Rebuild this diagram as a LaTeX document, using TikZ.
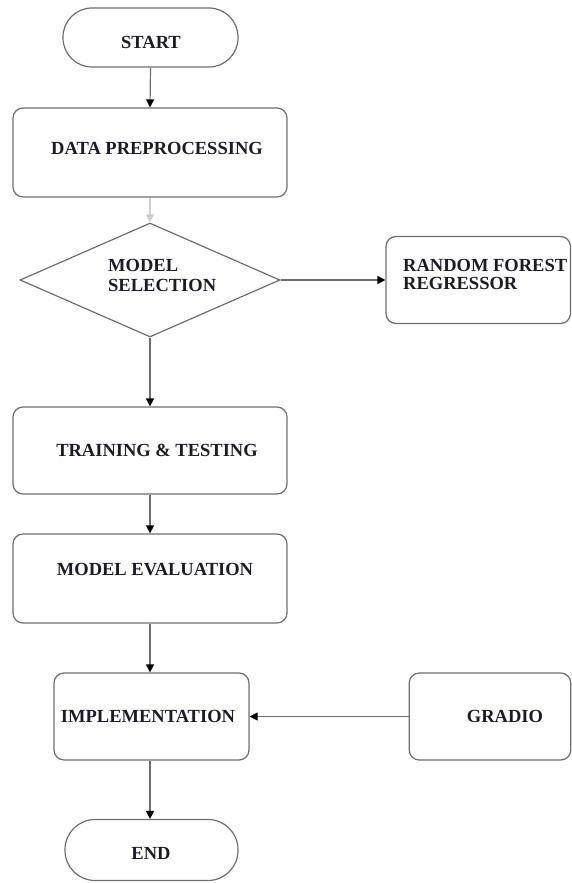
\documentclass[tikz,border=0pt]{standalone}
\usepackage{fontspec}
\setmainfont{Liberation Serif}
\usetikzlibrary{arrows.meta,shapes.geometric}
\definecolor{linegray}{HTML}{6E6E6E}
\definecolor{lightline}{HTML}{CDCDCD}
\definecolor{textcol}{HTML}{1C1C28}
\begin{document}
\begin{tikzpicture}[x=1pt,y=-1pt,
  box/.style={draw=linegray, line width=1.2pt, rounded corners=10pt, inner sep=0pt},
  term/.style={draw=linegray, line width=1.2pt, rounded corners=29pt, inner sep=0pt},
  lbl/.style={font=\fontsize{18.5}{19}\selectfont\bfseries, inner sep=0pt, text=textcol},
  arr/.style={draw=linegray, line width=1.2pt, -{Triangle[length=8pt,width=8pt,color=black]}},
  arrlight/.style={draw=lightline, line width=1.2pt, -{Triangle[length=8pt,width=8pt,color=lightline]}},
]
\useasboundingbox (0,0) rectangle (572,883);
% nodes
\node[term, minimum width=175pt, minimum height=59pt] (start) at (150.5,37.5) {};
\node[lbl] (startT) at (151,42) {START};
\node[box, minimum width=274pt, minimum height=89pt] (dp) at (150,152.5) {};
\node[lbl] (dpT) at (157,148) {DATA PREPROCESSING};
\node[draw=linegray, line width=1.2pt, diamond, minimum width=260pt, minimum height=114pt, inner sep=0pt] (ms) at (150,280) {};
\node[lbl, align=left, anchor=west, font=\fontsize{18.5}{20}\selectfont\bfseries] (msT) at (108,275) {MODEL\\SELECTION};
\node[box, minimum width=184.5pt, minimum height=87pt] (rf) at (478.25,280) {};
\node[lbl, align=left, anchor=west, font=\fontsize{18.5}{18}\selectfont\bfseries] (rfT) at (403,274) {RANDOM FOREST\\REGRESSOR};
\node[box, minimum width=274pt, minimum height=87pt] (tt) at (150,450.5) {};
\node[lbl] (ttT) at (157,450) {TRAINING \& TESTING};
\node[box, minimum width=274pt, minimum height=89pt] (me) at (150,578.5) {};
\node[lbl] (meT) at (155,570) {MODEL EVALUATION};
\node[box, minimum width=195pt, minimum height=87pt] (im) at (151.5,716.5) {};
\node[lbl] (imT) at (148,716) {IMPLEMENTATION};
\node[box, minimum width=161.5pt, minimum height=87pt] (gr) at (490,716.5) {};
\node[lbl] (grT) at (505,716) {GRADIO};
\node[term, minimum width=173pt, minimum height=61pt, rounded corners=30pt] (end) at (151.5,850) {};
\node[lbl] (endT) at (151,853) {END};
% connectors
\draw[arr] (start.south) -- (dp.north);
\draw[arrlight] (dp.south) -- (ms.north);
\draw[arr] (ms.east) -- (rf.west);
\draw[arr] (ms.south) -- (tt.north);
\draw[arr] (tt.south) -- (me.north);
\draw[arr] (me.south) -- (me.south |- im.north);
\draw[arr] (gr.west) -- (im.east);
\draw[arr] (im.south -| me.south) -- (me.south |- end.north);
\end{tikzpicture}
\end{document}
